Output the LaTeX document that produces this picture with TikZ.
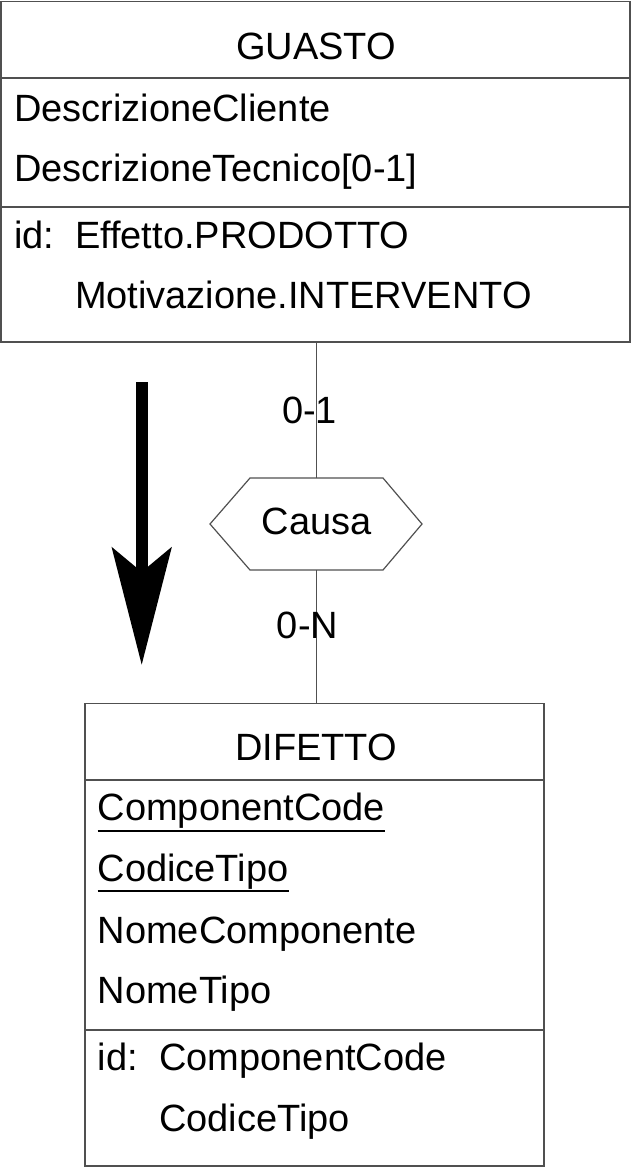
\documentclass[tikz,border=0pt]{standalone}
\usepackage{fontspec}
\setmainfont{Liberation Sans}
\usetikzlibrary{arrows.meta}
\definecolor{lineC}{RGB}{80,80,80}
\begin{document}
\begin{tikzpicture}[x=1pt,y=-1pt,
  every node/.style={font=\fontsize{38}{45}\selectfont, inner sep=0pt, outer sep=0pt},
  entbox/.style={draw=lineC, line width=1.6pt, anchor=north west},
  txt/.style={anchor=base west},
  ctxt/.style={anchor=base},
  conn/.style={draw=lineC, line width=1.6pt},
  hexline/.style={draw=lineC, line width=1.2pt, line join=miter},
  uline/.style={draw=black, line width=2pt},
  bigarrow/.style={draw=black, line width=12pt, -{Stealth[length=117pt,width=59pt,inset=24pt]}}]
\useasboundingbox (0,0) rectangle (632,1167);

% GUASTO entity
\node[entbox, minimum width=629pt, minimum height=340.5pt] (guasto) at (1.2,1.5) {};
\draw[conn] (1.2,78) -- (630.2,78);
\draw[conn] (1.2,207) -- (630.2,207);
\node[ctxt] (gT) at (316,59) {GUASTO};
\node[txt] (g1) at (14,121.7) {DescrizioneCliente};
\node[txt] (g2) at (14,181.7) {DescrizioneTecnico[0-1]};
\node[txt] (g3) at (14,248.5) {id:};
\node[txt] (g4) at (75,248.5) {Effetto.PRODOTTO};
\node[txt] (g5) at (75,308.5) {Motivazione.INTERVENTO};

% relationship
\node[minimum width=133pt, minimum height=92pt] (causa) at (316.5,524) {};
\draw[hexline] (causa.north west) -- (causa.north east) -- ([xshift=39pt]causa.east)
  -- (causa.south east) -- (causa.south west) -- ([xshift=-40pt]causa.west) -- cycle;
\node[ctxt] (causaT) at (316.5,534) {Causa};

% DIFETTO entity
\node[entbox, minimum width=459pt, minimum height=462.5pt] (difetto) at (85,703.3) {};
\draw[conn] (85,780) -- (544,780);
\draw[conn] (85,1030) -- (544,1030);
\node[ctxt] (dT) at (316,760) {DIFETTO};
\node[txt] (d1) at (97.7,820) {ComponentCode};
\node[txt] (d2) at (97.7,881.7) {CodiceTipo};
\node[txt] (d3) at (97.7,943) {NomeComponente};
\node[txt] (d4) at (97.7,1003) {NomeTipo};
\node[txt] (d5) at (97.7,1070) {id:};
\node[txt] (d6) at (159.3,1070) {ComponentCode};
\node[txt] (d7) at (159.3,1131.7) {CodiceTipo};
\draw[uline] ([yshift=-10.7pt]d1.base west) -- ([yshift=-10.7pt]d1.base east);
\draw[uline] ([yshift=-9.3pt]d2.base west) -- ([yshift=-9.3pt]d2.base east);

% connectors
\draw[conn] (causa.north) -- (causa.north |- guasto.south);
\draw[conn] (causa.south) -- (causa.south |- difetto.north);
\node[ctxt] (l01) at (309.5,423) {0-1};
\node[ctxt] (l0N) at (307.5,638.3) {0-N};

% direction arrow
\coordinate (aS) at (141.7,382);
\coordinate (aE) at (141.7,665);
\draw[bigarrow] (aS) -- (aE);
\end{tikzpicture}
\end{document}
